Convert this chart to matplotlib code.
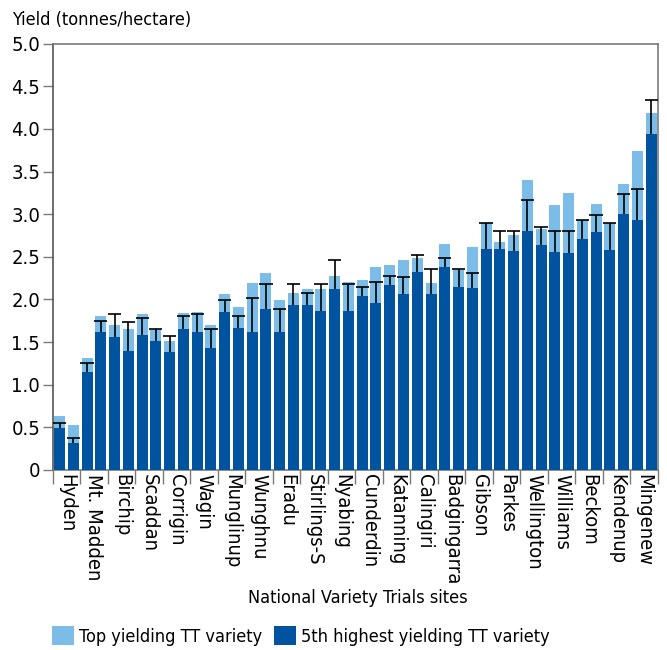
import numpy as np
import matplotlib
matplotlib.use('Agg')
import matplotlib.pyplot as plt
from matplotlib import font_manager
from matplotlib.ticker import FixedLocator, FixedFormatter

# pick a narrow sans font if there is one
narrow = [f for f in font_manager.fontManager.ttflist
          if f.stretch in ('condensed', 'semi-condensed', 'extra-condensed')
          or 'Narrow' in f.name or 'Condensed' in f.name]
if narrow:
    plt.rcParams['font.family'] = [narrow[0].name, 'DejaVu Sans']
    plt.rcParams['font.stretch'] = narrow[0].stretch
    fs, fs_tick = 13, 14.5
else:
    plt.rcParams['font.family'] = ['Liberation Sans', 'DejaVu Sans']
    fs, fs_tick = 12, 13

# site labels (every second site is labelled on the axis)
sites = ['Hyden', 'Mt. Madden', 'Birchip', 'Scaddan', 'Corrigin', 'Wagin',
         'Munglinup', 'Wunghnu', 'Eradu', 'Stirlings-S', 'Nyabing', 'Cunderdin',
         'Katanning', 'Calingiri', 'Badgingarra', 'Gibson', 'Parkes', 'Wellington',
         'Williams', 'Beckom', 'Kendenup', 'Mingenew']

# top yielding TT variety (t/ha)
top = [0.63, 0.53, 1.31, 1.81, 1.70, 1.65, 1.83, 1.64, 1.51, 1.84, 1.85,
       1.70, 2.06, 1.91, 2.19, 2.31, 1.99, 2.08, 2.12, 2.12, 2.28, 2.20,
       2.23, 2.38, 2.40, 2.46, 2.49, 2.19, 2.65, 2.35, 2.62, 2.90, 2.67,
       2.76, 3.40, 2.83, 3.11, 3.25, 2.93, 3.12, 2.90, 3.35, 3.74, 4.19]
# 5th highest yielding TT variety (t/ha)
fifth = [0.49, 0.32, 1.15, 1.62, 1.56, 1.40, 1.58, 1.51, 1.38, 1.65, 1.62,
         1.43, 1.85, 1.67, 1.62, 1.89, 1.62, 1.94, 1.94, 1.86, 2.12, 1.86,
         2.04, 1.96, 2.17, 2.06, 2.32, 2.06, 2.38, 2.15, 2.13, 2.59, 2.59,
         2.57, 2.80, 2.64, 2.56, 2.54, 2.71, 2.79, 2.58, 3.00, 2.93, 3.94]
# top of the error bar drawn up from the 5th highest value
err_top = [0.55, 0.37, 1.26, 1.75, 1.83, 1.73, 1.78, 1.65, 1.57, 1.81, 1.83,
           1.65, 1.99, 1.81, 2.02, 2.18, 1.89, 2.18, 2.07, 2.18, 2.46, 2.18,
           2.15, 2.20, 2.28, 2.26, 2.52, 2.36, 2.49, 2.36, 2.31, 2.90, 2.80,
           2.80, 3.17, 2.85, 2.80, 2.80, 2.93, 2.99, 2.90, 3.24, 3.30, 4.34]

light = '#7BBDE8'
dark = '#00539E'
grey = '#7a7a7a'

x = np.arange(len(top))

fig = plt.figure(figsize=(6.67, 6.5), dpi=100)
ax = fig.add_axes([0.079, 0.277, 0.9075, 0.6558])

ax.bar(x, top, width=0.8, color=light, zorder=2, label='Top yielding TT variety')
ax.bar(x, fifth, width=0.8, color=dark, zorder=3, label='5th highest yielding TT variety')
ax.vlines(x, fifth, err_top, color='black', lw=1.2, zorder=4)
ax.hlines(err_top, x - 0.48, x + 0.48, color='black', lw=1.2, zorder=4)

ax.set_xlim(-0.5, len(top) - 0.5)
ax.set_ylim(0, 5)
ax.set_yticks(np.arange(0, 5.01, 0.5))
ax.set_yticklabels(['0'] + ['%.1f' % v for v in np.arange(0.5, 5.01, 0.5)])

ax.xaxis.set_major_locator(FixedLocator(np.arange(-0.5, len(top), 2)))
ax.xaxis.set_major_formatter(FixedFormatter([]))
ax.xaxis.set_minor_locator(FixedLocator(np.arange(0.5, len(top), 2)))
ax.xaxis.set_minor_formatter(FixedFormatter(sites))
ax.tick_params(axis='x', which='major', length=10, width=1, color=grey)
ax.tick_params(axis='x', which='minor', length=0, labelsize=fs_tick, labelrotation=270, pad=3)
ax.tick_params(axis='y', length=7, width=1, color=grey, labelsize=fs_tick, pad=2)
for lab in ax.xaxis.get_minorticklabels():
    lab.set_va('top')
    lab.set_ha('center')

for s in ax.spines.values():
    s.set_color(grey)
    s.set_linewidth(1.2)
ax.spines['left'].set_color('#555555')

fig.text(358 / 667, 0.08, 'National Variety Trials sites', fontsize=fs, ha='center', va='center')
fig.text(0.018, 0.9615, 'Yield (tonnes/hectare)', fontsize=fs, va='baseline', ha='left')

fig.legend(loc='center left', bbox_to_anchor=(0.078, 0.0215), ncol=2, frameon=False,
           fontsize=fs, handlelength=1.2, handleheight=1.2, handletextpad=0.28,
           columnspacing=0.67, borderpad=0, borderaxespad=0)

plt.savefig('out.png', dpi=100)
